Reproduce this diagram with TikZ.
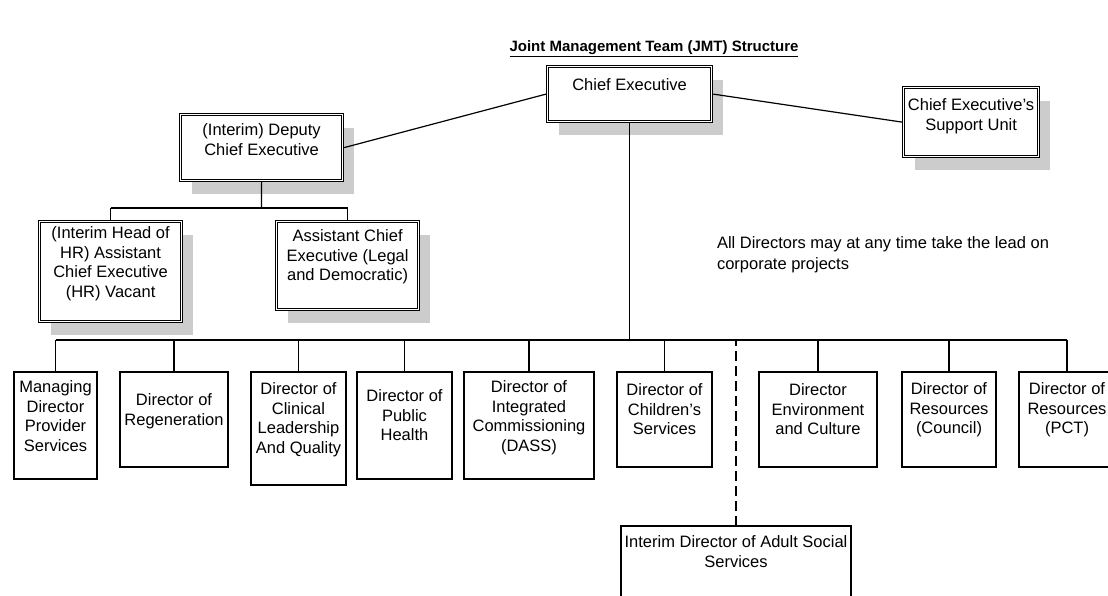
\documentclass[tikz,border=0pt]{standalone}
\usepackage{fontspec}
\setmainfont{Liberation Sans}
\usetikzlibrary{shadows,positioning}
\begin{document}
\begin{tikzpicture}[x=1pt,y=-1pt,
  conn/.style={line width=1.2pt},
  sbox/.style={draw, line width=1.2pt, fill=white, inner sep=0pt, outer sep=0pt, anchor=north west},
  dbox/.style={draw, double, double distance=1.6pt, line width=0.8pt, fill=white,
    inner sep=0pt, outer sep=1.6pt, anchor=north west,
    general shadow={fill=gray!40, shadow xshift=11pt, shadow yshift=-13pt}},
  txt/.style={inner sep=0pt, outer sep=0pt, align=center, font=\fontsize{16.5}{19.5}\selectfont},
]
\useasboundingbox (0,0) rectangle (1108,595);
\clip (0,0) rectangle (1108,595);

% title
\node[inner sep=0pt, anchor=base, font=\bfseries\fontsize{15}{18}\selectfont] (title) at (654,51.5)
  {\underline{Joint Management Team (JMT) Structure}};

% double-bordered boxes
\node[dbox, minimum width=164pt, minimum height=55pt] (ce) at (546,65) {};
\node[txt, below=14pt of ce.north] (ceT) {Chief Executive};

\node[dbox, minimum width=162pt, minimum height=66pt] (dep) at (179,113) {};
\node[txt, below=11pt of dep.north] (depT) {(Interim) Deputy\\Chief Executive};

\node[dbox, minimum width=135pt, minimum height=69pt] (sup) at (902,86) {};
\node[txt, below=13pt of sup.north] (supT) {Chief Executive’s\\Support Unit};

\node[dbox, minimum width=142pt, minimum height=100pt] (hr) at (38,220) {};
\node[txt, below=7pt of hr.north] (hrT) {(Interim Head of\\HR) Assistant\\Chief Executive\\(HR) Vacant};

\node[dbox, minimum width=142pt, minimum height=88pt] (leg) at (275,220) {};
\node[txt, below=10pt of leg.north] (legT) {Assistant Chief\\Executive (Legal\\and Democratic)};

% single boxes
\node[sbox, minimum width=83pt, minimum height=107pt] (mds) at (14,372) {};
\node[txt, below=9pt of mds.north] (mdsT) {Managing\\Director\\Provider\\Services};

\node[sbox, minimum width=108pt, minimum height=95pt] (reg) at (120,372) {};
\node[txt, below=22pt of reg.north] (regT) {Director of\\Regeneration};

\node[sbox, minimum width=95pt, minimum height=113pt] (clin) at (251,372) {};
\node[txt, below=11pt of clin.north] (clinT) {Director of\\Clinical\\Leadership\\And Quality};

\node[sbox, minimum width=95pt, minimum height=107pt] (pub) at (357,372) {};
\node[txt, below=18pt of pub.north] (pubT) {Director of\\Public\\Health};

\node[sbox, minimum width=130pt, minimum height=107pt] (integ) at (464,372) {};
\node[txt, below=9pt of integ.north] (integT) {Director of\\Integrated\\Commissioning\\(DASS)};

\node[sbox, minimum width=95pt, minimum height=95pt] (child) at (617,372) {};
\node[txt, below=12pt of child.north] (childT) {Director of\\Children’s\\Services};

\node[sbox, minimum width=118pt, minimum height=95pt] (env) at (759,372) {};
\node[txt, below=12pt of env.north] (envT) {Director\\Environment\\and Culture};

\node[sbox, minimum width=94pt, minimum height=95pt] (coun) at (902,372) {};
\node[txt, below=11pt of coun.north] (counT) {Director of\\Resources\\(Council)};

\node[sbox, minimum width=96pt, minimum height=95pt] (pct) at (1019,372) {};
\node[txt, below=11pt of pct.north] (pctT) {Director of\\Resources\\(PCT)};

\node[sbox, minimum width=230pt, minimum height=90pt] (adult) at (621,526) {};
\node[txt, below=10pt of adult.north] (adultT) {Interim Director of Adult Social\\Services};

% note
\node[txt, align=left, anchor=north west, font=\fontsize{16.5}{21}\selectfont] (note) at (717,237)
  {All Directors may at any time take the lead on\\corporate projects};

% connectors
\draw[conn] (ce.west) -- (dep.east);
\draw[conn] (ce.east) -- (sup.west);

\coordinate (depbus) at (261.5,208);
\draw[conn] (dep.south) -- (depbus);
\draw[conn] (hr.north |- depbus) -- (leg.north |- depbus);
\draw[conn] (hr.north) -- (hr.north |- depbus);
\draw[conn] (leg.north) -- (leg.north |- depbus);

\coordinate (bus) at (629,340);
\draw[conn] (ce.south) -- (ce.south |- bus);
\draw[conn] (mds.north |- bus) -- (pct.north |- bus);
\foreach \n in {mds,reg,clin,pub,integ,child,env,coun,pct}
  \draw[conn] (\n.north) -- (\n.north |- bus);
\draw[conn, dash pattern=on 10pt off 5pt] (adult.north) -- (adult.north |- bus);
\end{tikzpicture}
\end{document}
